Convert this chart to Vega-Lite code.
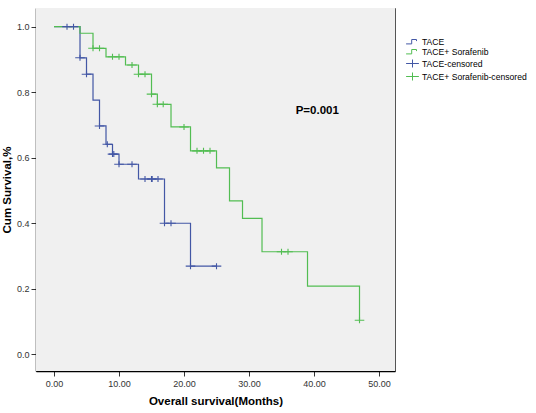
{
  "$schema": "https://vega.github.io/schema/vega-lite/v6.json",
  "width": 359,
  "height": 363,
  "padding": {"left": 1, "top": 8, "right": 5, "bottom": 5},
  "view": {"fill": "#f0f0f0", "stroke": "#555555"},
  "config": {
    "view": {"fill": "#f0f0f0", "stroke": "#555555"},
    "axis": {
      "grid": false,
      "domainColor": "#000000",
      "domainWidth": 1.5,
      "tickColor": "#333333",
      "tickSize": 5,
      "labelFontSize": 9,
      "labelColor": "#333333",
      "labelFont": "Liberation Sans",
      "titleFont": "Liberation Sans",
      "titleFontSize": 11.5,
      "titleFontWeight": "bold",
      "titleColor": "#000000"
    },
    "legend": {
      "orient": "none",
      "legendX": 372,
      "legendY": 29,
      "title": null,
      "labelFontSize": 8.6,
      "labelFont": "Liberation Sans",
      "labelColor": "#000000",
      "labelLimit": 200,
      "rowPadding": 0,
      "symbolSize": 64,
      "symbolStrokeWidth": 1,
      "labelOffset": 5
    }
  },
  "datasets": {
    "bg": [{"panel": "plot"}],
    "lines": [
      {"series": "TACE", "t": 0, "S": 1.0},
      {"series": "TACE", "t": 4, "S": 0.905},
      {"series": "TACE", "t": 5, "S": 0.855},
      {"series": "TACE", "t": 6, "S": 0.776},
      {"series": "TACE", "t": 7, "S": 0.697},
      {"series": "TACE", "t": 8, "S": 0.641},
      {"series": "TACE", "t": 9, "S": 0.611},
      {"series": "TACE", "t": 10, "S": 0.58},
      {"series": "TACE", "t": 13, "S": 0.535},
      {"series": "TACE", "t": 17, "S": 0.40},
      {"series": "TACE", "t": 21, "S": 0.269},
      {"series": "TACE", "t": 25, "S": 0.269},
      {"series": "TACE+ Sorafenib", "t": 0, "S": 1.0},
      {"series": "TACE+ Sorafenib", "t": 4, "S": 0.98},
      {"series": "TACE+ Sorafenib", "t": 6, "S": 0.934},
      {"series": "TACE+ Sorafenib", "t": 8, "S": 0.908},
      {"series": "TACE+ Sorafenib", "t": 11, "S": 0.883},
      {"series": "TACE+ Sorafenib", "t": 13, "S": 0.855},
      {"series": "TACE+ Sorafenib", "t": 15, "S": 0.794},
      {"series": "TACE+ Sorafenib", "t": 15.9, "S": 0.763},
      {"series": "TACE+ Sorafenib", "t": 18, "S": 0.694},
      {"series": "TACE+ Sorafenib", "t": 21, "S": 0.621},
      {"series": "TACE+ Sorafenib", "t": 25, "S": 0.569},
      {"series": "TACE+ Sorafenib", "t": 27, "S": 0.468},
      {"series": "TACE+ Sorafenib", "t": 29, "S": 0.415},
      {"series": "TACE+ Sorafenib", "t": 32, "S": 0.313},
      {"series": "TACE+ Sorafenib", "t": 39, "S": 0.208},
      {"series": "TACE+ Sorafenib", "t": 47, "S": 0.104}
    ],
    "cens": [
      {"series": "TACE-censored", "t": 2, "S": 1.0},
      {"series": "TACE-censored", "t": 3, "S": 1.0},
      {"series": "TACE-censored", "t": 4, "S": 0.905},
      {"series": "TACE-censored", "t": 5, "S": 0.855},
      {"series": "TACE-censored", "t": 7, "S": 0.697},
      {"series": "TACE-censored", "t": 8.2, "S": 0.641},
      {"series": "TACE-censored", "t": 9, "S": 0.611},
      {"series": "TACE-censored", "t": 9.2, "S": 0.611},
      {"series": "TACE-censored", "t": 10, "S": 0.58},
      {"series": "TACE-censored", "t": 12, "S": 0.58},
      {"series": "TACE-censored", "t": 14, "S": 0.535},
      {"series": "TACE-censored", "t": 15, "S": 0.535},
      {"series": "TACE-censored", "t": 15.1, "S": 0.535},
      {"series": "TACE-censored", "t": 16, "S": 0.535},
      {"series": "TACE-censored", "t": 17, "S": 0.40},
      {"series": "TACE-censored", "t": 18, "S": 0.40},
      {"series": "TACE-censored", "t": 21, "S": 0.269},
      {"series": "TACE-censored", "t": 25, "S": 0.269},
      {"series": "TACE+ Sorafenib-censored", "t": 6, "S": 0.934},
      {"series": "TACE+ Sorafenib-censored", "t": 7, "S": 0.934},
      {"series": "TACE+ Sorafenib-censored", "t": 9, "S": 0.908},
      {"series": "TACE+ Sorafenib-censored", "t": 10, "S": 0.908},
      {"series": "TACE+ Sorafenib-censored", "t": 12, "S": 0.883},
      {"series": "TACE+ Sorafenib-censored", "t": 13, "S": 0.855},
      {"series": "TACE+ Sorafenib-censored", "t": 14, "S": 0.855},
      {"series": "TACE+ Sorafenib-censored", "t": 15, "S": 0.794},
      {"series": "TACE+ Sorafenib-censored", "t": 15.9, "S": 0.763},
      {"series": "TACE+ Sorafenib-censored", "t": 16.8, "S": 0.763},
      {"series": "TACE+ Sorafenib-censored", "t": 20, "S": 0.694},
      {"series": "TACE+ Sorafenib-censored", "t": 22, "S": 0.621},
      {"series": "TACE+ Sorafenib-censored", "t": 23, "S": 0.621},
      {"series": "TACE+ Sorafenib-censored", "t": 24, "S": 0.621},
      {"series": "TACE+ Sorafenib-censored", "t": 35, "S": 0.313},
      {"series": "TACE+ Sorafenib-censored", "t": 36, "S": 0.313},
      {"series": "TACE+ Sorafenib-censored", "t": 47, "S": 0.104}
    ],
    "annot": [
      {"label": "P=0.001", "t": 40.5, "S": 0.743}
    ]
  },
  "layer": [
    {
      "data": {"name": "bg"},
      "mark": {"type": "rect", "color": "#f0f0f0"},
      "encoding": {}
    },
    {
      "data": {"name": "lines"},
      "transform": [{"filter": "datum.series === 'TACE'"}],
      "mark": {"type": "line", "interpolate": "step-after", "strokeWidth": 1.2},
      "encoding": {
        "x": {
          "field": "t",
          "type": "quantitative",
          "scale": {"domain": [-2.77, 52.46], "nice": false, "zero": false},
          "axis": {
            "values": [0, 10, 20, 30, 40, 50],
            "format": ".2f",
            "title": "Overall survival(Months)",
            "labelPadding": 3,
            "titlePadding": 7
          }
        },
        "y": {
          "field": "S",
          "type": "quantitative",
          "scale": {"domain": [-0.051, 1.057], "nice": false, "zero": false},
          "axis": {
            "values": [0, 0.2, 0.4, 0.6, 0.8, 1.0],
            "format": ".1f",
            "title": "Cum Survival,%",
            "labelPadding": 2,
            "titlePadding": 4
          }
        },
        "color": {
          "field": "series",
          "type": "nominal",
          "scale": {
            "domain": ["TACE", "TACE+ Sorafenib", "TACE-censored", "TACE+ Sorafenib-censored"],
            "range": ["#4357a5", "#52bd52", "#4357a5", "#52bd52"]
          }
        }
      }
    },
    {
      "data": {"name": "lines"},
      "transform": [{"filter": "datum.series === 'TACE+ Sorafenib'"}],
      "mark": {"type": "line", "interpolate": "step-after", "strokeWidth": 1.2},
      "encoding": {
        "x": {"field": "t", "type": "quantitative"},
        "y": {"field": "S", "type": "quantitative"},
        "color": {"field": "series", "type": "nominal"}
      }
    },
    {
      "data": {"name": "cens"},
      "mark": {"type": "point", "filled": false, "strokeWidth": 1.1, "size": 36, "opacity": 1},
      "encoding": {
        "x": {"field": "t", "type": "quantitative"},
        "y": {"field": "S", "type": "quantitative"},
        "color": {"field": "series", "type": "nominal"},
        "shape": {
          "field": "series",
          "type": "nominal",
          "scale": {
            "domain": ["TACE", "TACE+ Sorafenib", "TACE-censored", "TACE+ Sorafenib-censored"],
            "range": [
              "M-1.6,0.6H-0.2V-0.5H1.0V-0.1",
              "M-1.6,0.6H-0.2V-0.5H1.0V-0.1",
              "M-1.6,0H1.6M0,-1V1",
              "M-1.6,0H1.6M0,-1V1"
            ]
          }
        }
      }
    },
    {
      "data": {"name": "annot"},
      "mark": {"type": "text", "fontSize": 11.5, "fontWeight": "bold", "color": "#000000", "font": "Liberation Sans"},
      "encoding": {
        "x": {"field": "t", "type": "quantitative"},
        "y": {"field": "S", "type": "quantitative"},
        "text": {"field": "label"}
      }
    }
  ]
}
